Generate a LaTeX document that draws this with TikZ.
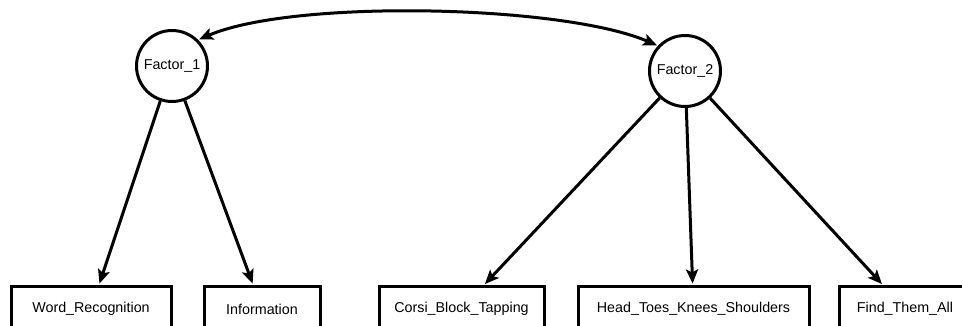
\documentclass[tikz,border=0pt]{standalone}
\usepackage{fontspec}
\setmainfont{Liberation Sans}
\usetikzlibrary{positioning,arrows.meta}

\begin{document}
\begin{tikzpicture}[x=1pt, y=1pt,
        font=\fontsize{14.3}{17}\selectfont,
        latent/.style={circle, draw=black, line width=3pt, minimum size=71pt, inner sep=0pt},
        obs/.style={rectangle, draw=black, line width=3pt, minimum height=44pt, inner sep=0pt},
        load/.style={-{Stealth[length=14pt, width=12pt, inset=3pt]}, line width=3pt, shorten >=2pt},
        covar/.style={{Stealth[length=14pt, width=12pt, inset=3pt]}-{Stealth[length=14pt, width=12pt, inset=3pt]}, line width=3pt, shorten <=1pt, shorten >=1pt}
    ]
    \useasboundingbox (0,0) rectangle (962,326);
    \clip (0,0) rectangle (962,326);

    % latent factors
    \node[latent] (f1) at (172,260) {Factor\_1};
    \node[latent] (f2) at (685,255) {Factor\_2};

    % observed indicators
    \node[obs, minimum width=160pt] (word) at (91,17) {Word\_Recognition};
    \node[obs, minimum width=116pt] (info) at (262,17) {Information};
    \node[obs, minimum width=165pt] (corsi) at (461.5,17) {Corsi\_Block\_Tapping};
    \node[obs, minimum width=231pt] (htks) at (693.5,17) {Head\_Toes\_Knees\_Shoulders};
    \node[obs, minimum width=132pt] (find) at (905,17) {Find\_Them\_All};

    % loadings
    \draw[load] (f1) -- (word);
    \draw[load] (f1) -- (info);
    \draw[load] (f2) -- (corsi);
    \draw[load] (f2) -- (htks);
    \draw[load] (f2) -- (find);

    % factor covariance
    \draw[covar] (f1.45) .. controls +(95,41) and +(-95,41) .. (f2.137);
\end{tikzpicture}
\end{document}
